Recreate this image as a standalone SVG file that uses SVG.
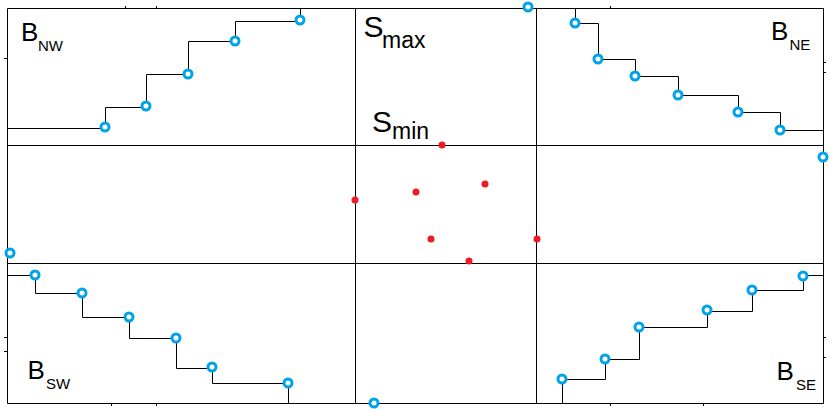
<svg xmlns="http://www.w3.org/2000/svg" width="832" height="411" viewBox="0 0 832 411">
<style>
.ln{fill:none;stroke:#000;stroke-width:1}
.bc{fill:#fff;stroke:#00a2e8;stroke-width:3}
.rd{fill:#ed1c24}
.big{font-family:"Liberation Sans",Arial,sans-serif;fill:#000}
</style>
<rect width="832" height="411" fill="#fff"/>
<g id="frame" class="ln">
<path d="M7.5,8.5H823.5V403.5H7.5Z"/>
<path d="M355.5,8V403M536.5,8V403M7,145.5H823M7,263.5H823"/>
<path d="M125.5,6V8M156.5,6V8M610.5,6V8M111.5,403V406M156.5,403V406M610.5,403V406M703.5,403V406M4,58.5H7M4,337.5H7M4,351.5H7M823,62.5H826M823,72.5H826M823,337.5H826M823,357.5H826"/>
</g>
<g id="connectors" class="ln">
<path d="M7,128.5H105.5V107.5H146.5V74.5H188.5V41.5H235.5V21.5H300.5V8"/>
<path d="M575.5,8V23.5H598.5V59.5H635.5V76.5H678.5V95.5H738.5V112.5H780.5V130.5H823"/>
<path d="M7,275.5H35.5V293.5H82.5V317.5H129.5V338.5H176.5V368.5H212.5V383.5H288.5V403"/>
<path d="M562.5,403V379.5H605.5V359.5H639.5V327.5H707.5V311.5H752.5V290.5H803.5V275.5H823"/>
</g>
<g id="B_NW">
<circle class="bc" cx="105" cy="127" r="4"/><circle class="bc" cx="146" cy="106" r="4"/><circle class="bc" cx="188" cy="74" r="4"/><circle class="bc" cx="235" cy="41" r="4"/><circle class="bc" cx="300" cy="20" r="4"/>
<text class="big" x="21" y="41" font-size="26">B<tspan x="38" y="51" font-size="15">NW</tspan></text>
</g>
<g id="B_NE">
<circle class="bc" cx="575" cy="23" r="4"/><circle class="bc" cx="598" cy="59" r="4"/><circle class="bc" cx="635" cy="76" r="4"/><circle class="bc" cx="678" cy="95" r="4"/><circle class="bc" cx="738" cy="112" r="4"/><circle class="bc" cx="780" cy="130" r="4"/>
<text class="big" x="771" y="40" font-size="26">B<tspan x="789.5" y="50" font-size="15">NE</tspan></text>
</g>
<g id="B_SW">
<circle class="bc" cx="35" cy="275" r="4"/><circle class="bc" cx="82" cy="293" r="4"/><circle class="bc" cx="129" cy="317" r="4"/><circle class="bc" cx="176" cy="338" r="4"/><circle class="bc" cx="212" cy="367" r="4"/><circle class="bc" cx="288" cy="383" r="4"/>
<text class="big" x="27.5" y="378.5" font-size="26">B<tspan x="46" y="389" font-size="15">SW</tspan></text>
</g>
<g id="B_SE">
<circle class="bc" cx="562" cy="379" r="4"/><circle class="bc" cx="605" cy="359" r="4"/><circle class="bc" cx="639" cy="327" r="4"/><circle class="bc" cx="707" cy="310" r="4"/><circle class="bc" cx="752" cy="290" r="4"/><circle class="bc" cx="803" cy="276" r="4"/>
<text class="big" x="776.5" y="379.5" font-size="26">B<tspan x="796" y="390" font-size="15">SE</tspan></text>
</g>
<g id="S_max">
<circle class="bc" cx="528" cy="7" r="4"/><circle class="bc" cx="823" cy="157" r="4"/><circle class="bc" cx="10" cy="253" r="4"/><circle class="bc" cx="374" cy="403" r="4"/>
<text class="big" x="363.5" y="37" font-size="30">S<tspan x="382" y="47.5" font-size="23">max</tspan></text>
</g>
<g id="S_min">
<circle class="rd" cx="442" cy="145" r="3.5"/><circle class="rd" cx="416" cy="192" r="3.5"/><circle class="rd" cx="485" cy="184" r="3.5"/><circle class="rd" cx="355" cy="200" r="3.5"/><circle class="rd" cx="431" cy="239" r="3.5"/><circle class="rd" cx="537" cy="239" r="3.5"/><circle class="rd" cx="469" cy="261" r="3.5"/>
<text class="big" x="372" y="131.5" font-size="30">S<tspan x="392" y="138.5" font-size="23">min</tspan></text>
</g>
</svg>
